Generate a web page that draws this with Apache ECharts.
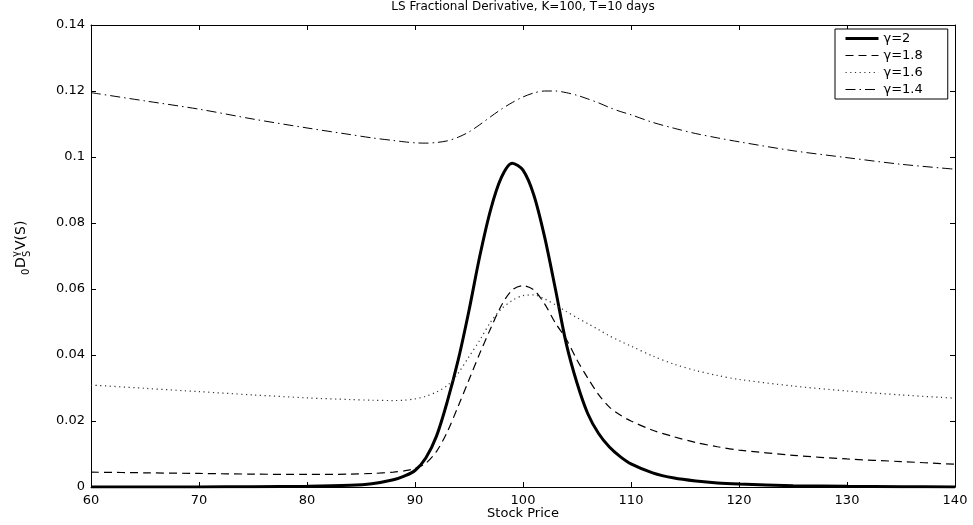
<!DOCTYPE html>
<html>
<head>
<meta charset="utf-8">
<script src="https://cdn.jsdelivr.net/npm/echarts@6/dist/echarts.min.js"></script>
<style>
  html, body { margin: 0; padding: 0; background: #fff; }
  #chart { width: 973px; height: 525px; }
</style>
</head>
<body>
<div id="chart"></div>
<script>
// stock prices (x)
var price = [60, 65, 70, 75, 80, 84, 86, 88, 89, 90, 91, 92, 93, 94, 95, 96, 97, 98, 99, 100,
             101, 102, 103, 104, 105, 106, 107, 108, 109, 110, 112, 114, 116, 118, 120, 125, 130, 135, 140];

// gamma = 2 (solid, thick)
var g20 = [0.0000, 0.0000, 0.0000, 0.0001, 0.0002, 0.0005, 0.0010, 0.0022, 0.0033, 0.0050,
           0.0088, 0.0155, 0.0260, 0.0385, 0.0535, 0.0700, 0.0840, 0.0938, 0.0981, 0.0960,
           0.0885, 0.0758, 0.0600, 0.0435, 0.0315, 0.0222, 0.0162, 0.0121, 0.0092, 0.0070,
           0.0043, 0.0027, 0.0018, 0.0012, 0.0009, 0.0004, 0.0002, 0.0001, 0.0000];
// gamma = 1.8 (dashed)
var g18 = [0.0045, 0.0043, 0.0041, 0.0039, 0.0038, 0.0039, 0.0041, 0.0045, 0.0049, 0.0056,
           0.0072, 0.0108, 0.0168, 0.0245, 0.0325, 0.0405, 0.0480, 0.0550, 0.0597, 0.0610,
           0.0597, 0.0555, 0.0497, 0.0448, 0.0385, 0.0330, 0.0280, 0.0242, 0.0218, 0.0200,
           0.0172, 0.0152, 0.0135, 0.0122, 0.0112, 0.0096, 0.0085, 0.0077, 0.0069];
// gamma = 1.6 (dotted)
var g16 = [0.0309, 0.0299, 0.0289, 0.0279, 0.0270, 0.0265, 0.0263, 0.0262, 0.0263, 0.0267,
           0.0275, 0.0288, 0.0308, 0.0345, 0.0395, 0.0445, 0.0500, 0.0540, 0.0565, 0.0580,
           0.0582, 0.0570, 0.0552, 0.0532, 0.0513, 0.0495, 0.0477, 0.0458, 0.0442, 0.0427,
           0.0397, 0.0372, 0.0353, 0.0338, 0.0326, 0.0306, 0.0291, 0.0279, 0.0269];
// gamma = 1.4 (dash-dot)
var g14 = [0.1195, 0.1170, 0.1145, 0.1115, 0.1088, 0.1068, 0.1058, 0.1050, 0.1046, 0.1043,
           0.1042, 0.1044, 0.1049, 0.1060, 0.1076, 0.1098, 0.1122, 0.1145, 0.1165, 0.1182,
           0.1194, 0.1200, 0.1200, 0.1195, 0.1187, 0.1176, 0.1164, 0.1150, 0.1138, 0.1128,
           0.1105, 0.1087, 0.1071, 0.1058, 0.1046, 0.1019, 0.0998, 0.0978, 0.0963];

var names = ['γ=2', 'γ=1.8', 'γ=1.6', 'γ=1.4'];

function pairs(ys) {
    return price.map(function (p, i) { return [p, ys[i]]; });
}

var font = 'DejaVu Sans';
var black = '#000';

// line looks, shared by series and legend
var styles = [
    { color: black, width: 3, type: 'solid' },
    { color: black, width: 1.2, type: [8, 5] },
    { color: '#333', width: 1.2, type: [1.2, 3.5] },
    { color: black, width: 1, type: [10, 4, 1.5, 4] }
];

var chart = echarts.init(document.getElementById('chart'));

function axisBase(extra) {
    var a = {
        axisLine: { show: true, onZero: false, lineStyle: { color: black, width: 1 } },
        axisTick: { show: true, inside: true, length: 5, lineStyle: { color: black } },
        splitLine: { show: false },
        axisLabel: { show: false }
    };
    for (var k in extra) a[k] = extra[k];
    return a;
}

var option = {
    backgroundColor: '#fff',
    animation: false,
    grid: { left: 91, right: 18, top: 25, bottom: 38 },
    legend: {
        orient: 'vertical',
        left: 835,
        top: 29,
        itemWidth: 33,
        itemHeight: 14,
        itemGap: 4,
        padding: [3, 25, 3, 9],
        borderColor: black,
        borderWidth: 1,
        backgroundColor: '#fff',
        itemStyle: { opacity: 0, borderWidth: 0 },
        textStyle: { fontFamily: font, fontSize: 13, color: black },
        data: names.map(function (n, i) {
            return { name: n, lineStyle: styles[i] };
        })
    },
    xAxis: [
        axisBase({
            type: 'value', min: 60, max: 140, interval: 10, position: 'bottom',
            axisLabel: { show: true, margin: 7, color: black, fontFamily: font, fontSize: 13 }
        }),
        axisBase({ type: 'value', min: 60, max: 140, interval: 10, position: 'top' })
    ],
    yAxis: [
        axisBase({
            type: 'value', min: 0, max: 0.14, interval: 0.02, position: 'left',
            axisLabel: {
                show: true, margin: 6, color: black, fontFamily: font, fontSize: 13,
                formatter: function (v) { return String(parseFloat(v.toFixed(2))); }
            }
        }),
        axisBase({ type: 'value', min: 0, max: 0.14, interval: 0.02, position: 'right' })
    ],
    graphic: [
        {
            type: 'text', x: 523, y: 7,
            style: {
                text: 'LS Fractional Derivative, K=100, T=10 days',
                fill: black, font: '12px "DejaVu Sans"',
                textAlign: 'center', textVerticalAlign: 'middle'
            }
        },
        {
            type: 'text', x: 523, y: 514,
            style: {
                text: 'Stock Price', fill: black, font: '13px "DejaVu Sans"',
                textAlign: 'center', textVerticalAlign: 'middle'
            }
        },
        {
            // y label: 0 D^γ_S V(S), read bottom to top
            type: 'group', x: 21, y: 275, rotation: Math.PI / 2,
            children: [
                { type: 'text', x: 0, y: 5, style: { text: '0', fill: black, font: '10px "DejaVu Sans"', textVerticalAlign: 'middle' } },
                { type: 'text', x: 7, y: 0, style: { text: 'D', fill: black, font: '14px "DejaVu Sans"', textVerticalAlign: 'middle' } },
                { type: 'text', x: 18, y: -5, style: { text: 'γ', fill: black, font: '10px "DejaVu Sans"', textVerticalAlign: 'middle' } },
                { type: 'text', x: 18, y: 6, style: { text: 'S', fill: black, font: '10px "DejaVu Sans"', textVerticalAlign: 'middle' } },
                { type: 'text', x: 25, y: 0, style: { text: 'V(S)', fill: black, font: '14px "DejaVu Sans"', textVerticalAlign: 'middle' } }
            ]
        }
    ],
    series: [g20, g18, g16, g14].map(function (ys, i) {
        return {
            name: names[i], type: 'line', data: pairs(ys),
            smooth: 0.3, symbol: 'none',
            lineStyle: styles[i],
            itemStyle: { color: styles[i].color }
        };
    })
};

chart.setOption(option);
</script>
</body>
</html>
